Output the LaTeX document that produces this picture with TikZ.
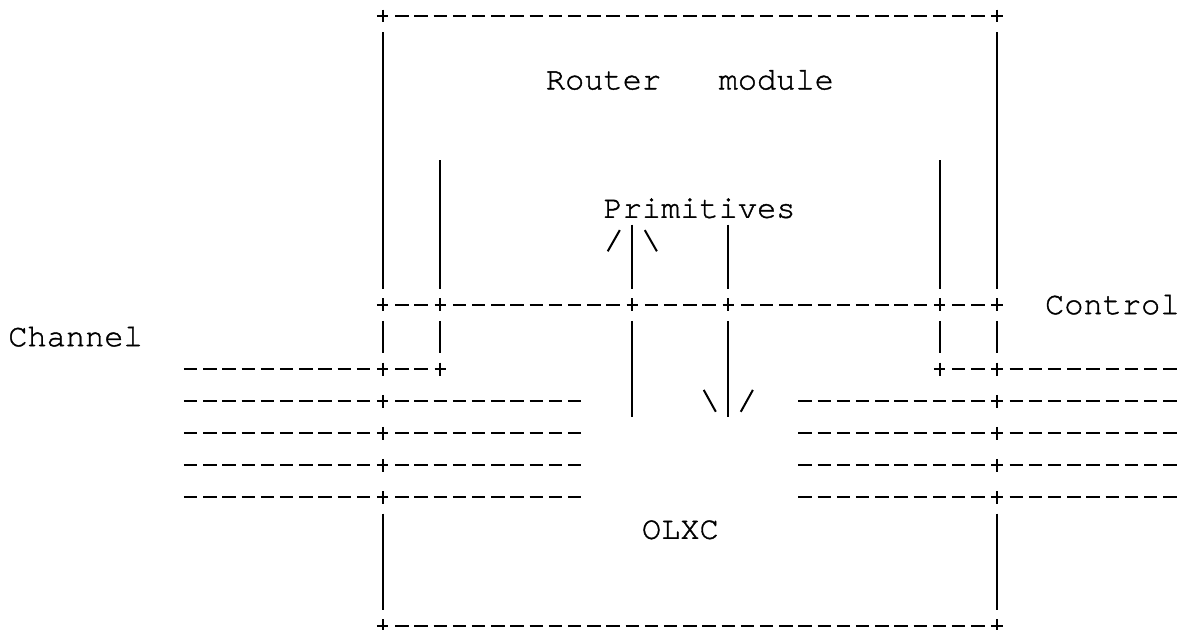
\documentclass[tikz,border=0pt]{standalone}
\usepackage{fontspec}
\usepackage{tikz}
\newfontfamily\asciifont[FakeBold=1.2]{texgyrecursor-regular.otf}
\tikzstyle{wire}=[line width=1pt]
\tikzstyle{rail}=[line width=1pt,dash pattern=on 6.72pt off 2.88pt]
\tikzstyle{caption}=[font=\asciifont\fontsize{16}{19}\selectfont,inner sep=0pt,text height=9.2pt,text depth=0pt]
\tikzset{plus/.pic={\draw[wire] (-0.3,0) -- (0.3,0) (0,-0.2) -- (0,0.2);}}

\begin{document}
\begin{tikzpicture}[x=9.6pt,y=-16.05pt]
	\useasboundingbox (-0.932,-0.498) rectangle (60.526,19.128);
	\node at (35,2) [caption] (router) {Router\ \ \ module};
	\node at (35.5,6) [caption] (prim) {Primitives};
	\node at (57,9) [caption] (ctrl) {Control};
	\node at (3,10) [caption] (chan) {Channel};
	\node at (34.5,16) [caption] (olxc) {OLXC};
	
	% junctions
	\foreach \c/\r in {19/0,51/0,19/9,22/9,32/9,37/9,48/9,51/9,19/11,22/11,48/11,51/11,19/19,51/19}
		\pic at (\c,\r) {plus};
	\foreach \r in {12,13,14,15} {
		\pic at (19,\r) {plus};
		\pic at (51,\r) {plus};
		\draw[rail] (8.65,\r) -- (18.35,\r);
		\draw[rail] (19.65,\r) -- (29.35,\r);
		\draw[rail] (40.65,\r) -- (50.35,\r);
		\draw[rail] (51.65,\r) -- (60.35,\r);
	}
	
	\draw[rail] (19.65,0) -- (50.35,0);
	\draw[rail] (19.65,19) -- (50.35,19);
	\draw[rail] (19.65,9) -- (21.35,9);
	\draw[rail] (22.65,9) -- (31.35,9);
	\draw[rail] (32.65,9) -- (36.35,9);
	\draw[rail] (37.65,9) -- (47.35,9);
	\draw[rail] (48.65,9) -- (50.35,9);
	\draw[rail] (8.65,11) -- (18.35,11);
	\draw[rail] (19.65,11) -- (21.35,11);
	\draw[rail] (48.65,11) -- (50.35,11);
	\draw[rail] (51.65,11) -- (60.35,11);
	
	\draw[wire] (19,0.5) -- (19,8.5) (19,9.5) -- (19,10.5) (19,15.5) -- (19,18.5);
	\draw[wire] (51,0.5) -- (51,8.5) (51,9.5) -- (51,10.5) (51,15.5) -- (51,18.5);
	\draw[wire] (22,4.5) -- (22,8.5) (22,9.5) -- (22,10.5);
	\draw[wire] (48,4.5) -- (48,8.5) (48,9.5) -- (48,10.5);
	\draw[wire] (32,6.5) -- (32,8.5) (32,9.5) -- (32,12.5);
	\draw[wire] (37,6.5) -- (37,8.5) (37,9.5) -- (37,12.5);
	
	% arrow strokes
	\draw[wire] (30.72,7.33) -- (31.35,6.67) (32.65,6.67) -- (33.28,7.33);
	\draw[wire] (35.72,11.65) -- (36.35,12.33) (38.28,11.65) -- (37.65,12.33);
\end{tikzpicture}
\end{document}
